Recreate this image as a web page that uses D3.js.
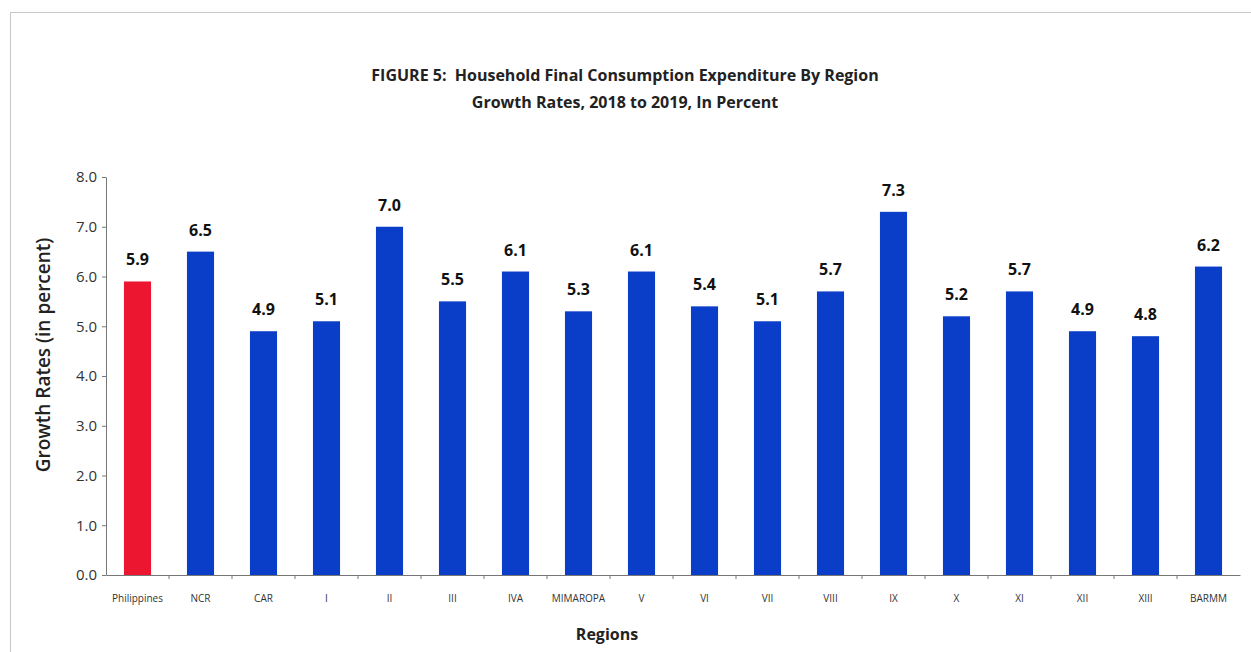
<!DOCTYPE html>
<html lang="en">
<meta charset="utf-8">
<style>
  body { margin: 0; background: #fff; }
  text { font-family: "Open Sans", sans-serif; }
</style>
<body>
<div id="my_dataviz"></div>

<script src="https://d3js.org/d3.v7.min.js"></script>
<script>

// data
var regions = ["Philippines", "NCR", "CAR", "I", "II", "III", "IVA", "MIMAROPA", "V",
               "VI", "VII", "VIII", "IX", "X", "XI", "XII", "XIII", "BARMM"];
var growth = [5.9, 6.5, 4.9, 5.1, 7.0, 5.5, 6.1, 5.3, 6.1, 5.4, 5.1, 5.7, 7.3, 5.2, 5.7, 4.9, 4.8, 6.2];
var yTicks = [0, 1, 2, 3, 4, 5, 6, 7, 8];
var titleLines = ["FIGURE 5:  Household Final Consumption Expenditure By Region",
                  "Growth Rates, 2018 to 2019, In Percent"];

var W = 1251, H = 652;
var svg = d3.select("#my_dataviz").append("svg")
  .attr("width", W).attr("height", H);

// outer frame
svg.append("rect")
  .attr("x", 10.5).attr("y", 12.5)
  .attr("width", 1250).attr("height", 660)
  .attr("fill", "none").attr("stroke", "#c8c8c8");

var x = d3.scaleBand()
  .domain(regions)
  .range([106, 1240])
  .paddingInner(0.57)
  .paddingOuter(0.285);

var y = d3.scaleLinear()
  .domain([0, 8])
  .range([575, 177]);

// bars
svg.selectAll(".bar")
  .data(regions)
  .enter().append("rect")
  .attr("class", "bar")
  .attr("x", function(d) { return x(d); })
  .attr("width", x.bandwidth())
  .attr("y", function(d, i) { return y(growth[i]); })
  .attr("height", function(d, i) { return y(0) - y(growth[i]); })
  .attr("fill", function(d, i) { return i == 0 ? "#ec1630" : "#0b3ec8"; });

// value labels
svg.selectAll(".val")
  .data(regions)
  .enter().append("text")
  .attr("x", function(d) { return x(d) + x.bandwidth() / 2; })
  .attr("y", function(d, i) { return y(growth[i]) - 16; })
  .attr("text-anchor", "middle")
  .attr("font-size", 16)
  .attr("font-weight", "bold")
  .attr("fill", "#111")
  .text(function(d, i) { return growth[i].toFixed(1); });

// y axis
var yAxis = svg.append("g")
  .attr("transform", "translate(106,0)")
  .call(d3.axisLeft(y).tickValues(yTicks).tickFormat(d3.format(".1f")).tickSize(4).tickSizeOuter(0).tickPadding(5));
yAxis.select(".domain").attr("stroke", "#777");
yAxis.selectAll(".tick line").attr("stroke", "#777");
yAxis.selectAll(".tick text")
  .attr("font-size", 15).attr("fill", "#333")
  .style("font-family", "\"Open Sans\", sans-serif");

// x axis, ticks at band edges
var xAxis = svg.append("g")
  .attr("transform", "translate(0,575)")
  .call(d3.axisBottom(x).tickSize(0).tickSizeOuter(0).tickPadding(20));
xAxis.select(".domain").attr("stroke", "#777");
xAxis.selectAll(".tick text")
  .attr("font-size", 10).attr("fill", "#333")
  .style("font-family", "\"Open Sans\", sans-serif");
xAxis.selectAll(".edge")
  .data(regions.slice(1))
  .enter().append("line")
  .attr("x1", function(d) { return x(d) - x.step() * x.paddingInner() / 2; })
  .attr("x2", function(d) { return x(d) - x.step() * x.paddingInner() / 2; })
  .attr("y1", 0).attr("y2", 4)
  .attr("stroke", "#777");

// title
svg.selectAll(".title")
  .data(titleLines)
  .enter().append("text")
  .attr("x", 625)
  .attr("y", function(d, i) { return 81 + i * 27; })
  .attr("text-anchor", "middle")
  .attr("font-size", 16)
  .attr("font-weight", "bold")
  .attr("fill", "#222")
  .style("white-space", "pre")
  .text(function(d) { return d; });

// axis titles
svg.append("text")
  .attr("transform", "translate(50,355) rotate(-90)")
  .attr("text-anchor", "middle")
  .attr("font-size", 19)
  .attr("font-weight", 600)
  .attr("fill", "#222")
  .text("Growth Rates (in percent)");

svg.append("text")
  .attr("x", 607).attr("y", 640)
  .attr("text-anchor", "middle")
  .attr("font-size", 16)
  .attr("font-weight", "bold")
  .attr("fill", "#222")
  .text("Regions");

</script>
</body>
</html>
